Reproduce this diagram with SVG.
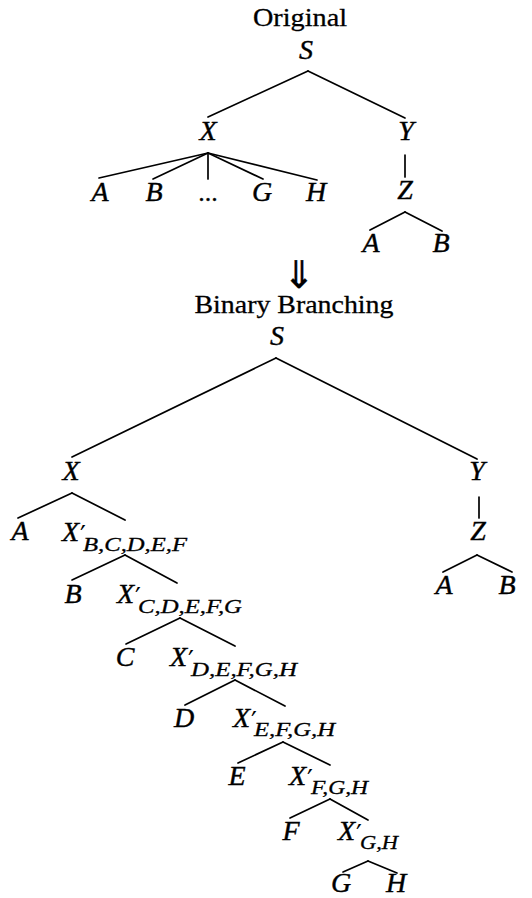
<svg xmlns="http://www.w3.org/2000/svg" width="532" height="898" viewBox="0 0 532 898">
<style>
.bg{fill:#fff}
.t{font-family:"Liberation Serif","Times New Roman",serif;font-size:26px;fill:#000;stroke:#000;stroke-width:0.3}
.m{font-family:"Liberation Serif","Times New Roman",serif;font-style:italic;font-size:28px;fill:#000;stroke:#000;stroke-width:0.4;text-anchor:middle}
.ms{font-family:"Liberation Serif","Times New Roman",serif;font-style:italic;font-size:28px;fill:#000;stroke:#000;stroke-width:0.4}
.sub{font-family:"Liberation Serif","Times New Roman",serif;font-style:italic;font-size:19px;fill:#000;stroke:#000;stroke-width:0.3}
.pr{font-family:"DejaVu Sans",sans-serif;font-size:26px;fill:#000}
.arr{font-family:"DejaVu Sans",sans-serif;font-size:38px;fill:#000;stroke:#000;stroke-width:0.4;text-anchor:middle}
#connectors line{stroke:#000;stroke-width:1.7;stroke-linecap:round}
</style>
<rect class="bg" x="0" y="0" width="532" height="898"/>

<!-- titles -->
<g id="title-original"><text class="t" x="300" y="26" text-anchor="middle" textLength="94" lengthAdjust="spacingAndGlyphs">Original</text></g>
<g id="arrow-down"><text class="arr" x="299" y="288">⇓</text></g>
<g id="title-binary"><text class="t" x="294" y="313" text-anchor="middle" textLength="199" lengthAdjust="spacingAndGlyphs">Binary Branching</text></g>

<!-- connectors -->
<g id="connectors">
  <!-- original tree -->
  <line x1="308" y1="71" x2="208" y2="117"/>
  <line x1="308" y1="71" x2="405" y2="118"/>
  <line x1="208" y1="153" x2="99" y2="178"/>
  <line x1="208" y1="153" x2="153" y2="179"/>
  <line x1="208" y1="153" x2="208" y2="179"/>
  <line x1="208" y1="153" x2="263" y2="179"/>
  <line x1="208" y1="153" x2="317" y2="180"/>
  <line x1="405" y1="155" x2="405" y2="177"/>
  <line x1="405" y1="212" x2="370" y2="230"/>
  <line x1="405" y1="212" x2="442" y2="231"/>
  <!-- binary tree -->
  <line x1="276" y1="358" x2="72" y2="457"/>
  <line x1="276" y1="358" x2="477" y2="459"/>
  <line x1="72" y1="493" x2="18" y2="518"/>
  <line x1="72" y1="493" x2="125" y2="520"/>
  <line x1="479" y1="497" x2="479" y2="518"/>
  <line x1="477" y1="555" x2="443" y2="572"/>
  <line x1="477" y1="555" x2="512" y2="572"/>
  <line x1="125" y1="555" x2="72" y2="580"/>
  <line x1="125" y1="555" x2="177" y2="583"/>
  <line x1="180" y1="618" x2="126" y2="644"/>
  <line x1="180" y1="618" x2="235" y2="646"/>
  <line x1="235" y1="680" x2="185" y2="705"/>
  <line x1="235" y1="680" x2="285" y2="706"/>
  <line x1="283" y1="742" x2="238" y2="763"/>
  <line x1="283" y1="742" x2="330" y2="765"/>
  <line x1="330" y1="799" x2="290" y2="818"/>
  <line x1="330" y1="799" x2="368" y2="820"/>
  <line x1="368" y1="861" x2="343" y2="872"/>
  <line x1="368" y1="861" x2="397" y2="873"/>
</g>

<!-- original tree nodes -->
<g id="o-S"><text class="m" x="306" y="59">S</text></g>
<g id="o-X"><text class="m" x="208" y="140">X</text></g>
<g id="o-Y"><text class="m" x="406" y="140">Y</text></g>
<g id="o-A"><text class="m" x="100" y="201">A</text></g>
<g id="o-B"><text class="m" x="154" y="201">B</text></g>
<g id="o-dots"><text class="t" x="208" y="201" text-anchor="middle">...</text></g>
<g id="o-G"><text class="m" x="262" y="201">G</text></g>
<g id="o-H"><text class="m" x="316" y="201">H</text></g>
<g id="o-Z"><text class="m" x="405" y="199">Z</text></g>
<g id="o-ZA"><text class="m" x="371" y="252">A</text></g>
<g id="o-ZB"><text class="m" x="441" y="252">B</text></g>

<!-- binary tree nodes -->
<g id="b-S"><text class="m" x="277" y="345">S</text></g>
<g id="b-X"><text class="m" x="71" y="480">X</text></g>
<g id="b-Y"><text class="m" x="477" y="480">Y</text></g>
<g id="b-A"><text class="m" x="20" y="540">A</text></g>
<g id="b-X1"><text class="ms" x="62" y="541">X</text><text class="pr" x="80" y="545">′</text><text class="sub" x="83" y="551" textLength="104" lengthAdjust="spacingAndGlyphs">B,C,D,E,F</text></g>
<g id="b-Z"><text class="m" x="478" y="540">Z</text></g>
<g id="b-ZA"><text class="m" x="444" y="594">A</text></g>
<g id="b-ZB"><text class="m" x="507" y="594">B</text></g>
<g id="b-B"><text class="m" x="73" y="603">B</text></g>
<g id="b-X2"><text class="ms" x="117" y="603">X</text><text class="pr" x="135" y="607">′</text><text class="sub" x="138" y="613" textLength="104" lengthAdjust="spacingAndGlyphs">C,D,E,F,G</text></g>
<g id="b-C"><text class="m" x="125" y="666">C</text></g>
<g id="b-X3"><text class="ms" x="170" y="666">X</text><text class="pr" x="188" y="670">′</text><text class="sub" x="191" y="676" textLength="106" lengthAdjust="spacingAndGlyphs">D,E,F,G,H</text></g>
<g id="b-D"><text class="m" x="184" y="727">D</text></g>
<g id="b-X4"><text class="ms" x="233" y="727">X</text><text class="pr" x="251" y="731">′</text><text class="sub" x="254" y="736" textLength="81" lengthAdjust="spacingAndGlyphs">E,F,G,H</text></g>
<g id="b-E"><text class="m" x="237" y="785">E</text></g>
<g id="b-X5"><text class="ms" x="289" y="785">X</text><text class="pr" x="307" y="789">′</text><text class="sub" x="311" y="794" textLength="57" lengthAdjust="spacingAndGlyphs">F,G,H</text></g>
<g id="b-F"><text class="m" x="291" y="840">F</text></g>
<g id="b-X6"><text class="ms" x="338" y="840">X</text><text class="pr" x="356" y="844">′</text><text class="sub" x="360" y="849" textLength="38" lengthAdjust="spacingAndGlyphs">G,H</text></g>
<g id="b-G"><text class="m" x="341" y="892">G</text></g>
<g id="b-H"><text class="m" x="396" y="892">H</text></g>
</svg>
